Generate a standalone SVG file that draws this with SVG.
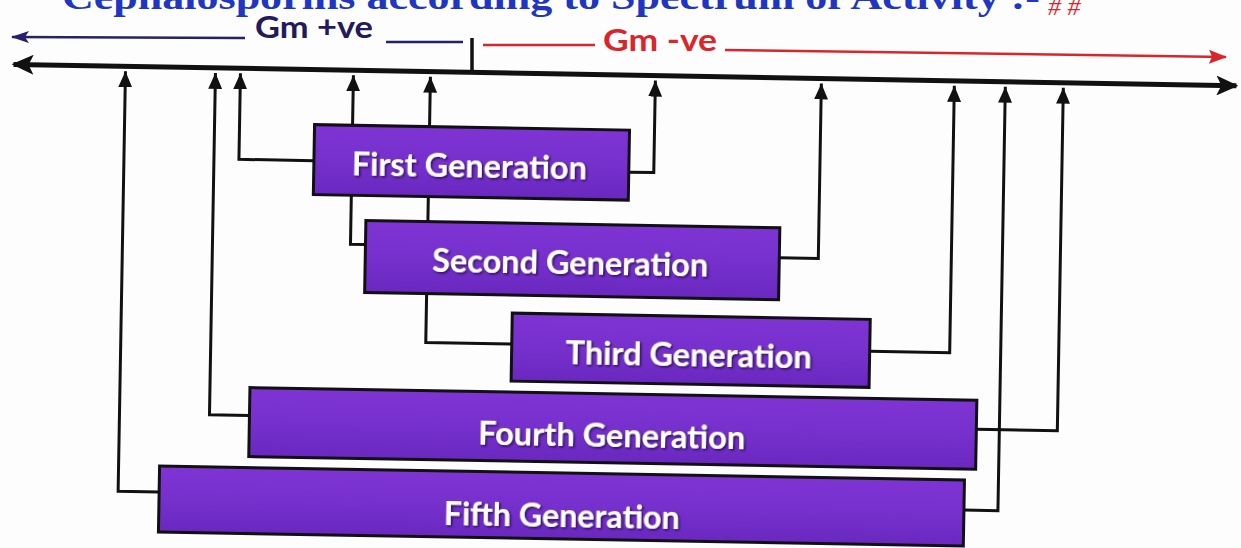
<svg xmlns="http://www.w3.org/2000/svg" width="1241" height="548" viewBox="0 0 1241 548">
<defs>
<style>
.box{stroke:#111;stroke-width:3;fill:url(#pg)}
.lbl{font-family:Lato,"Open Sans",sans-serif;font-weight:700;font-size:33px;fill:#fff;filter:url(#sh)}
.con{fill:none;stroke:#111;stroke-width:3}
.up{marker-end:url(#ah)}
</style>
<linearGradient id="pg" x1="0" y1="0" x2="0" y2="1">
<stop offset="0" stop-color="#7e34d4"/>
<stop offset="0.5" stop-color="#7630cc"/>
<stop offset="1" stop-color="#6a28c0"/>
</linearGradient>
<filter id="sh" x="-5%" y="-20%" width="110%" height="140%">
<feDropShadow dx="1.5" dy="1.5" stdDeviation="0.8" flood-color="#24083f" flood-opacity="0.9"/>
</filter>
<marker id="ah" viewBox="0 0 16 14" refX="16" refY="7" markerWidth="16" markerHeight="14" markerUnits="userSpaceOnUse" orient="auto">
<path d="M0,0 L16,7 L0,14 z" fill="#111"/>
</marker>
<marker id="axh" viewBox="0 0 22 20" refX="20" refY="10" markerWidth="22" markerHeight="20" markerUnits="userSpaceOnUse" orient="auto-start-reverse">
<path d="M0,0 L22,10 L0,20 L5,10 z" fill="#111"/>
</marker>
<marker id="bh" viewBox="0 0 18 12" refX="17" refY="6" markerWidth="18" markerHeight="12" markerUnits="userSpaceOnUse" orient="auto">
<path d="M0,0 L18,6 L0,12 L4,6 z" fill="#27206a"/>
</marker>
<marker id="rh" viewBox="0 0 18 14" refX="17" refY="7" markerWidth="18" markerHeight="14" markerUnits="userSpaceOnUse" orient="auto">
<path d="M0,0 L18,7 L0,14 L3,7 z" fill="#d9262b"/>
</marker>
</defs>
<rect width="1241" height="548" fill="#fdfdfd"/>

<g id="header">
<text x="62" y="9" textLength="978" lengthAdjust="spacingAndGlyphs" font-family="'Liberation Serif',serif" font-weight="700" font-size="36" fill="#1f36c2">Cephalosporins according to Spectrum of Activity :-</text>
<text x="1048" y="15" font-family="'Liberation Serif',serif" font-style="italic" font-size="26" fill="#d9262b"># #</text>
<line x1="245" y1="38" x2="12" y2="37" stroke="#27206a" stroke-width="2.5" marker-end="url(#bh)"/>
<text x="255" y="38" textLength="118" lengthAdjust="spacingAndGlyphs" font-family="Lato,'Open Sans',sans-serif" font-weight="700" font-size="31" fill="#231a5e">Gm +ve</text>
<line x1="386" y1="42" x2="463" y2="42" stroke="#27206a" stroke-width="2.5"/>
<line x1="472" y1="38" x2="472" y2="72" stroke="#111" stroke-width="3.5"/>
<line x1="483" y1="45" x2="595" y2="45" stroke="#d9262b" stroke-width="2.5"/>
<text x="603" y="51" textLength="114" lengthAdjust="spacingAndGlyphs" font-family="Lato,'Open Sans',sans-serif" font-weight="700" font-size="31" fill="#d9262b">Gm -ve</text>
<line x1="725" y1="50" x2="1226" y2="57" stroke="#d9262b" stroke-width="2.5" marker-end="url(#rh)"/>
</g>

<g id="diagram" transform="rotate(1 620 274)">
<g id="axis">
<line x1="10" y1="75" x2="1233" y2="75" stroke="#111" stroke-width="5" marker-start="url(#axh)" marker-end="url(#axh)"/>
</g>
<g id="connectors">
<path class="con up" d="M163,500 H122 V80"/>
<path class="con up" d="M252,422 H212 V80"/>
<path class="con up" d="M312,166 H237 V80"/>
<path class="con up" d="M350,130 V80"/>
<path class="con up" d="M427,130 V80"/>
<path class="con" d="M350,200 V249 H365"/>
<path class="con" d="M427,200 V225"/>
<path class="con" d="M427,297 V346 H513"/>
<path class="con up" d="M627,172 H652 V80"/>
<path class="con up" d="M779,255 H818 V80"/>
<path class="con up" d="M871,347 H951 V80"/>
<path class="con up" d="M979,423 H1060 V80"/>
<path class="con up" d="M968,504 H1002 V80"/>
</g>
<g id="first">
<rect class="box" x="312" y="130" width="315" height="70"/>
<text class="lbl" x="350" y="180" textLength="235" lengthAdjust="spacingAndGlyphs">First Generation</text>
</g>
<g id="second">
<rect class="box" x="365" y="225" width="414" height="72"/>
<text class="lbl" x="432" y="275" textLength="276" lengthAdjust="spacingAndGlyphs">Second Generation</text>
</g>
<g id="third">
<rect class="box" x="513" y="315" width="358" height="68"/>
<text class="lbl" x="567" y="365" textLength="246" lengthAdjust="spacingAndGlyphs">Third Generation</text>
</g>
<g id="fourth">
<rect class="box" x="252" y="394" width="727" height="69"/>
<text class="lbl" x="481" y="447" textLength="267" lengthAdjust="spacingAndGlyphs">Fourth Generation</text>
</g>
<g id="fifth">
<rect class="box" x="163" y="474" width="805" height="66"/>
<text class="lbl" x="448" y="528" textLength="236" lengthAdjust="spacingAndGlyphs">Fifth Generation</text>
</g>
</g>
</svg>
